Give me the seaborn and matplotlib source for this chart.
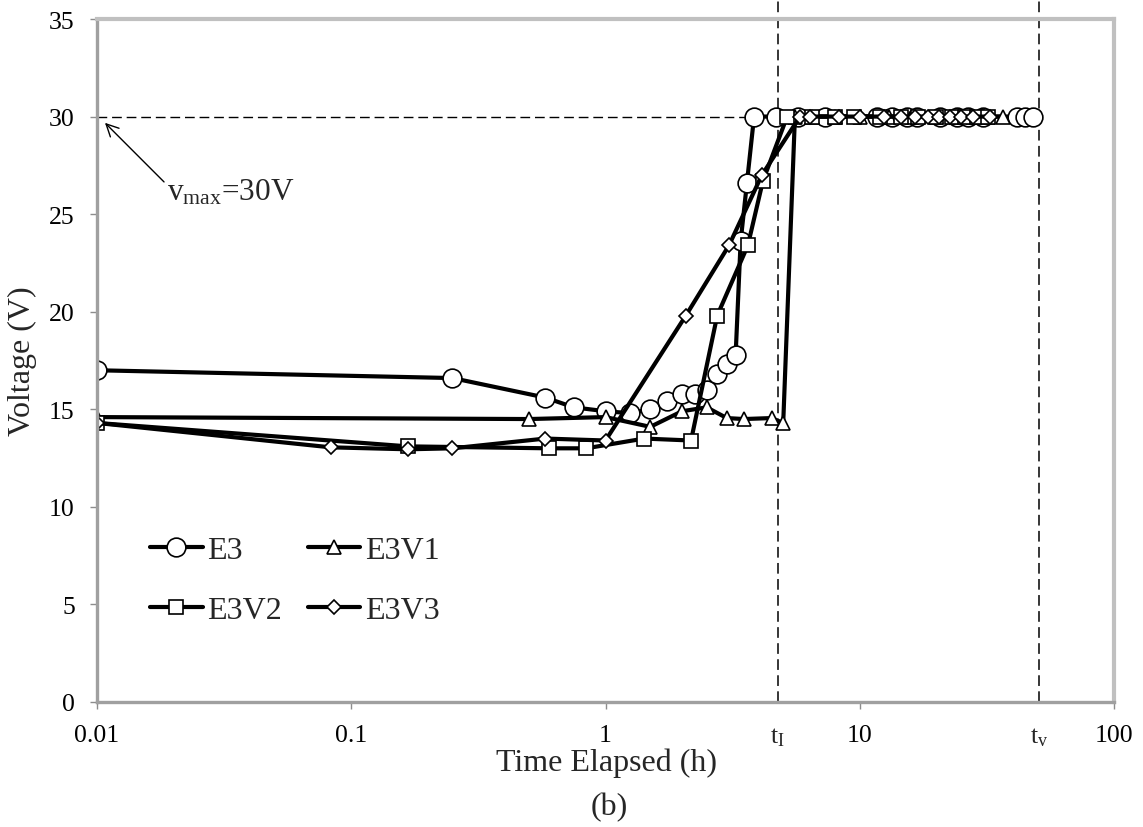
import matplotlib
matplotlib.use("Agg")
import matplotlib.pyplot as plt
import seaborn as sns
import pandas as pd

# ---------------- data ----------------
e3_x = [0.01, 0.25, 0.58, 0.75, 1.0, 1.25, 1.5, 1.75, 2.0, 2.25, 2.5, 2.75, 3.0, 3.25, 3.4, 3.6, 3.84,
        4.68, 5.7, 7.3, 11.7, 13.4, 15.3, 16.8, 20.7, 24.1, 26.7, 30.5, 41.5, 44.6, 48.0]
e3_y = [17.0, 16.6, 15.6, 15.1, 14.9, 14.8, 15.0, 15.4, 15.8, 15.8, 16.0, 16.8, 17.3, 17.8, 23.6, 26.6, 30.0,
        30.0, 30.0, 30.0, 30.0, 30.0, 30.0, 30.0, 30.0, 30.0, 30.0, 30.0, 30.0, 30.0, 30.0]

e3v1_x = [0.01, 0.5, 1.0, 1.5, 2.0, 2.5, 3.0, 3.5, 4.5, 5.0, 5.56, 6.5, 8.0, 10.0, 13.0, 16.0, 20.0,
          24.0, 28.0, 32.0, 36.5]
e3v1_y = [14.6, 14.5, 14.6, 14.1, 14.9, 15.1, 14.55, 14.5, 14.55, 14.3, 30.0, 30.0, 30.0, 30.0, 30.0,
          30.0, 30.0, 30.0, 30.0, 30.0, 30.0]

e3v2_x = [0.01, 0.167, 0.6, 0.84, 1.42, 2.17, 2.75, 3.63, 4.16, 5.18, 6.5, 8.0, 9.5, 12.0, 14.5, 17.0,
          20.0, 23.0, 26.0, 29.0, 32.0]
e3v2_y = [14.3, 13.1, 13.0, 13.0, 13.5, 13.4, 19.8, 23.4, 26.7, 30.0, 30.0, 30.0, 30.0, 30.0, 30.0, 30.0,
          30.0, 30.0, 30.0, 30.0, 30.0]

e3v3_x = [0.01, 0.083, 0.167, 0.25, 0.58, 1.0, 2.07, 3.06, 4.12, 5.82, 6.4, 8.3, 10.0, 12.4, 14.5, 16.5,
          18.5, 20.5, 22.7, 25.0, 28.0, 32.5]
e3v3_y = [14.3, 13.05, 12.95, 13.0, 13.5, 13.4, 19.8, 23.4, 27.0, 30.0, 30.0, 30.0, 30.0, 30.0, 30.0, 30.0,
          30.0, 30.0, 30.0, 30.0, 30.0, 30.0]

series_names = ["E3", "E3V1", "E3V2", "E3V3"]
x_ticks = [0.01, 0.1, 1, 10, 100]
x_tick_labels = ["0.01", "0.1", "1", "10", "100"]
y_ticks = [0, 5, 10, 15, 20, 25, 30, 35]
t_I = 4.75
t_v = 50.7
v_max = 30

# ---------------- style ----------------
sns.set_theme(style="white")
plt.rcParams["font.family"] = ["Liberation Serif", "DejaVu Serif"]
plt.rcParams["mathtext.fontset"] = "custom"
plt.rcParams["mathtext.rm"] = "Liberation Serif"
plt.rcParams["mathtext.it"] = "Liberation Serif:italic"
plt.rcParams["mathtext.bf"] = "Liberation Serif:bold"

W, H = 1143, 828
fig = plt.figure(figsize=(W / 100, H / 100), dpi=100)
L, R, T, B = 97, 1114, 20, 703
ax = fig.add_axes([L / W, 1 - B / H, (R - L) / W, (B - T) / H])

styles = {
    "E3": dict(marker="o", markersize=13.5),
    "E3V1": dict(marker="^", markersize=10.5),
    "E3V2": dict(marker="s", markersize=9.5),
    "E3V3": dict(marker="D", markersize=7.0),
}
data = {
    "E3": (e3_x, e3_y),
    "E3V1": (e3v1_x, e3v1_y),
    "E3V2": (e3v2_x, e3v2_y),
    "E3V3": (e3v3_x, e3v3_y),
}

ax.set_xscale("log")
for name in series_names:
    xs, ys = data[name]
    df = pd.DataFrame({"t": xs, "v": ys})
    sns.lineplot(data=df, x="t", y="v", ax=ax, color="black", linewidth=3,
                 markerfacecolor="white", markeredgecolor="black", markeredgewidth=1.2,
                 estimator=None, sort=False, label=name, **styles[name])

ax.set_xlim(0.01, 100)
ax.set_ylim(0, 35)
ax.set_xticks(x_ticks)
ax.set_xticklabels(x_tick_labels)
ax.xaxis.set_minor_locator(matplotlib.ticker.NullLocator())
ax.set_yticks(y_ticks)
ax.set_xlabel("")
ax.set_ylabel("")
ax.tick_params(axis="both", which="major", direction="out", length=5, width=1,
               color="#8c8c8c", labelsize=18.5, labelcolor="black")
ax.tick_params(axis="x", pad=11)
ax.tick_params(axis="y", pad=11)
ax.tick_params(bottom=True, left=True)

for s in ["left", "bottom"]:
    ax.spines[s].set_color("#a0a0a0")
    ax.spines[s].set_linewidth(2.4)
for s in ["top", "right"]:
    ax.spines[s].set_color("#c0c0c0")
    ax.spines[s].set_linewidth(3)

# reference lines
dash = (0, (7, 3.5))
ax.plot([0.01, t_I], [v_max, v_max], color="black", lw=1.0, ls=dash, zorder=1)
ax.axvline(t_I, ymin=0, ymax=B / (B - T), color="black", lw=1.1, ls=dash, clip_on=False, zorder=1)
ax.axvline(t_v, ymin=0, ymax=B / (B - T), color="black", lw=1.1, ls=dash, clip_on=False, zorder=1)

# annotation
ax.annotate("", xy=(0.01056, 29.78), xytext=(0.01868, 26.55),
            arrowprops=dict(arrowstyle="->", lw=1.0, color="black", mutation_scale=22))
ax.text(0.0189, 25.75, r"v$_{\mathrm{max}}$=30V", fontsize=22.5, va="baseline", ha="left")

# t_I / t_v labels
trans = matplotlib.transforms.blended_transform_factory(ax.transData, ax.transAxes)
ax.text(t_I, -0.0595, r"t$_{\mathrm{I}}$", transform=trans, fontsize=18.5, ha="center", va="baseline")
ax.text(t_v, -0.0595, r"t$_{\mathrm{v}}$", transform=trans, fontsize=18.5, ha="center", va="baseline")

# legend (row 1: E3, E3V1 ; row 2: E3V2, E3V3)
handles, labels = ax.get_legend_handles_labels()
hmap = dict(zip(labels, handles))
order = ["E3", "E3V2", "E3V1", "E3V3"]
ax.legend([hmap[k] for k in order], order, loc="upper left", bbox_to_anchor=(0.052, 0.243),
          ncol=2, frameon=False, fontsize=23, handlelength=1.65, handletextpad=0.15,
          columnspacing=0.8, labelspacing=0.95, borderpad=0, borderaxespad=0)

# axis titles
fig.text(22 / W, 1 - 361 / H, "Voltage (V)", rotation=90, fontsize=23, ha="center", va="center")
fig.text(606 / W, 1 - 763 / H, "Time Elapsed (h)", fontsize=23, ha="center", va="center")
fig.text(609 / W, 1 - 808 / H, "(b)", fontsize=23, ha="center", va="center")

fig.savefig("out.png", dpi=100, facecolor="white")
